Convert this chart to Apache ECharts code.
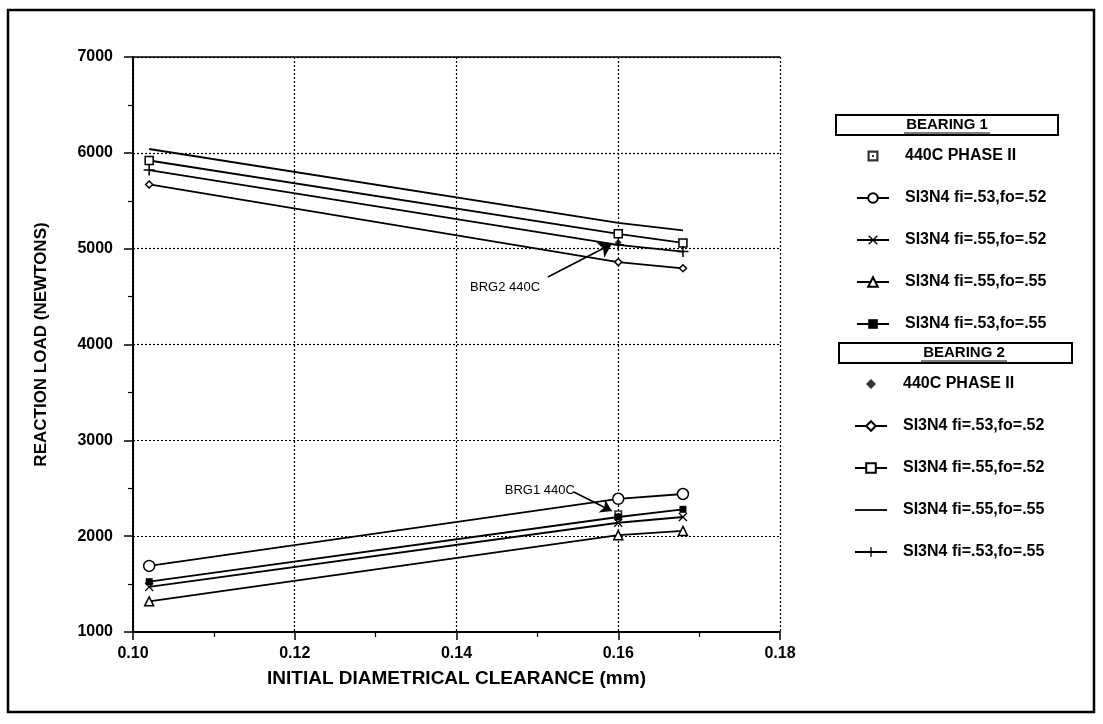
<!DOCTYPE html>
<html>
<head>
<meta charset="utf-8">
<script src="https://cdn.jsdelivr.net/npm/echarts@6/dist/echarts.min.js"></script>
<style>html,body{margin:0;padding:0;background:#fff;}#c{width:1103px;height:724px;}</style>
</head>
<body>
<div id="c"></div>
<script>
const clearance = [0.102, 0.16, 0.168];
const xTicks = ['0.10', '0.12', '0.14', '0.16', '0.18'];
const yTicks = [1000, 2000, 3000, 4000, 5000, 6000, 7000];

// Bearing 1
const b1_440c = [[0.16, 2230]];
const b1_53_52 = [1690, 2390, 2440];
const b1_55_52 = [1470, 2140, 2200];
const b1_55_55 = [1320, 2010, 2055];
const b1_53_55 = [1525, 2200, 2280];
// Bearing 2
const b2_440c = [[0.16, 5065]];
const b2_53_52 = [5670, 4860, 4795];
const b2_55_52 = [5920, 5155, 5060];
const b2_55_55 = [6040, 5270, 5190];
const b2_53_55 = [5820, 5040, 4970];

const names1 = ['440C PHASE II', 'SI3N4 fi=.53,fo=.52', 'SI3N4 fi=.55,fo=.52', 'SI3N4 fi=.55,fo=.55', 'SI3N4 fi=.53,fo=.55'];
const names2 = ['440C PHASE II ', 'SI3N4 fi=.53,fo=.52 ', 'SI3N4 fi=.55,fo=.52 ', 'SI3N4 fi=.55,fo=.55 ', 'SI3N4 fi=.53,fo=.55 '];

const FONT = 'Liberation Sans';
const pair = v => v.map((y, i) => [clearance[i], y]);
const PLUS = 'path://M4.3,0 L5.7,0 L5.7,4.3 L10,4.3 L10,5.7 L5.7,5.7 L5.7,10 L4.3,10 L4.3,5.7 L0,5.7 L0,4.3 L4.3,4.3 Z';
const XMARK = 'path://M1,0 L5,4 L9,0 L10,1 L6,5 L10,9 L9,10 L5,6 L1,10 L0,9 L4,5 L0,1 Z';
const SQDOT = 'path://M0,0 H10 V10 H0 Z M2,2 V8 H8 V2 Z M4,4 H6 V6 H4 Z';
// legend-only icons (padded to the 32x12 legend icon box)
const LINEICON = 'path://M0,0 H32 V1.8 H0 Z';
const SQDOT_ICON = 'path://M0,0 M32,12 M10.5,0.5 H21.5 V11.5 H10.5 Z M12.7,2.7 V9.3 H19.3 V2.7 Z M15,5 H17 V7 H15 Z';
const DIAMOND_ICON = 'path://M0,0 M32,12 M16,1 L21,6 L16,11 L11,6 Z';

const lineStyle = {color: '#000', width: 1.8};
function lineSeries(name, data, symbol, size, open) {
  return {
    name, type: 'line', data: pair(data), symbol, symbolSize: size,
    showSymbol: symbol !== 'none',
    lineStyle, animation: false,
    itemStyle: open ? {color: '#fff', borderColor: '#000', borderWidth: 1.5} : {color: '#000', borderWidth: 0},
    emphasis: {disabled: true}
  };
}

const legendText = {fontFamily: FONT, fontSize: 16, fontWeight: 'bold', color: '#000', padding: [0, 0, 0, 11]};
const chart = echarts.init(document.getElementById('c'));
chart.setOption({
  animation: false,
  backgroundColor: '#fff',
  textStyle: {fontFamily: FONT},
  grid: {left: 133, right: 323, top: 57, bottom: 92},
  xAxis: [{
    type: 'value', min: 0.10, max: 0.18, interval: 0.02,
    name: 'INITIAL DIAMETRICAL CLEARANCE (mm)', nameLocation: 'middle', nameGap: 37,
    nameTextStyle: {fontFamily: FONT, fontWeight: 'bold', fontSize: 19, color: '#000'},
    axisLine: {lineStyle: {color: '#000', width: 2}},
    axisTick: {show: true, length: 8, lineStyle: {color: '#000', width: 1.5}},
    minorTick: {show: true, splitNumber: 2, length: 5, lineStyle: {color: '#000', width: 1.2}},
    axisLabel: {color: '#000', fontSize: 16, fontWeight: 'bold', margin: 14, formatter: v => xTicks[Math.round((v - 0.10) / 0.02)]},
    splitLine: {show: true, lineStyle: {color: '#000', type: [2, 2], width: 1.2}}
  }, {
    type: 'value', position: 'top', min: 0.10, max: 0.18,
    axisLine: {show: true, lineStyle: {color: '#000', width: 1.5}},
    axisTick: {show: false}, axisLabel: {show: false}, splitLine: {show: false}
  }],
  yAxis: {
    type: 'value', min: 1000, max: 7000, interval: 1000,
    name: 'REACTION LOAD (NEWTONS)', nameLocation: 'middle', nameGap: 83, nameRotate: 90,
    nameTextStyle: {fontFamily: FONT, fontWeight: 'bold', fontSize: 17, color: '#000'},
    axisLine: {show: true, lineStyle: {color: '#000', width: 2}},
    axisTick: {show: true, length: 9, lineStyle: {color: '#000', width: 1.5}},
    minorTick: {show: true, splitNumber: 2, length: 5, lineStyle: {color: '#000', width: 1.2}},
    axisLabel: {color: '#000', fontSize: 16, fontWeight: 'bold', margin: 20, formatter: v => String(yTicks[Math.round((v - 1000) / 1000)])},
    splitLine: {show: true, lineStyle: {color: '#000', type: [2, 2], width: 1.2}}
  },
  legend: [{
    data: names1.map((n, i) => i === 0 ? {name: n, icon: SQDOT_ICON} : {name: n}), orient: 'vertical', left: 851, top: 143,
    itemWidth: 32, itemHeight: 12, itemGap: 26, selectedMode: false, textStyle: legendText
  }, {
    data: names2.map((n, i) => i === 0 ? {name: n, icon: DIAMOND_ICON} : (i === 3 ? {name: n, icon: LINEICON} : {name: n})),
    orient: 'vertical', left: 849, top: 371,
    itemWidth: 32, itemHeight: 12, itemGap: 26, selectedMode: false, textStyle: legendText
  }],
  graphic: [
    {type: 'rect', shape: {x: 8, y: 10, width: 1086, height: 702}, style: {fill: 'none', stroke: '#000', lineWidth: 2.5}, silent: true},
    {type: 'rect', shape: {x: 836, y: 115, width: 222, height: 20}, style: {fill: '#fff', stroke: '#000', lineWidth: 2}, silent: true},
    {type: 'text', x: 947, y: 125, style: {text: 'BEARING 1', font: 'bold 15px ' + FONT, fill: '#000', align: 'center', verticalAlign: 'middle'}, silent: true},
    {type: 'line', shape: {x1: 904, y1: 133, x2: 990, y2: 133}, style: {stroke: '#000', lineWidth: 1.2}, silent: true},
    {type: 'rect', shape: {x: 839, y: 343, width: 233, height: 20}, style: {fill: '#fff', stroke: '#000', lineWidth: 2}, silent: true},
    {type: 'text', x: 964, y: 353, style: {text: 'BEARING 2', font: 'bold 15px ' + FONT, fill: '#000', align: 'center', verticalAlign: 'middle'}, silent: true},
    {type: 'line', shape: {x1: 921, y1: 361, x2: 1007, y2: 361}, style: {stroke: '#000', lineWidth: 1.2}, silent: true}
  ],
  series: [
    {name: names1[0], type: 'scatter', data: b1_440c, symbol: SQDOT, symbolSize: 8, itemStyle: {color: '#000'}, z: 5,
     markLine: {silent: true, symbol: ['none', 'arrow'], symbolSize: 11, label: {show: false}, lineStyle: {color: '#000', width: 1.6, type: 'solid'},
       data: [[{coord: [0.1545, 2461]}, {coord: [0.1592, 2263]}]]},
     markPoint: {silent: true, symbol: 'rect', symbolSize: 0, label: {show: true, color: '#000', fontSize: 13, fontFamily: FONT, formatter: 'BRG1 440C'},
       data: [{coord: [0.1503, 2482]}]}},
    lineSeries(names1[1], b1_53_52, 'circle', 11, true),
    lineSeries(names1[2], b1_55_52, XMARK, 9, false),
    lineSeries(names1[3], b1_55_55, 'triangle', 9, true),
    lineSeries(names1[4], b1_53_55, 'rect', 7, false),
    {name: names2[0], type: 'scatter', data: b2_440c, symbol: 'diamond', symbolSize: 7, itemStyle: {color: '#000'}, z: 5,
     markLine: {silent: true, symbol: ['none', 'arrow'], symbolSize: 13, label: {show: false}, lineStyle: {color: '#000', width: 1.6, type: 'solid'},
       data: [[{coord: [0.1513, 4704]}, {coord: [0.1592, 5049]}]]},
     markPoint: {silent: true, symbol: 'rect', symbolSize: 0, label: {show: true, color: '#000', fontSize: 13, fontFamily: FONT, formatter: 'BRG2 440C'},
       data: [{coord: [0.146, 4600]}]}},
    lineSeries(names2[1], b2_53_52, 'diamond', 7, true),
    lineSeries(names2[2], b2_55_52, 'rect', 8, true),
    lineSeries(names2[3], b2_55_55, 'none', 0, false),
    lineSeries(names2[4], b2_53_55, PLUS, 11, false)
  ]
});
</script>
</body>
</html>
